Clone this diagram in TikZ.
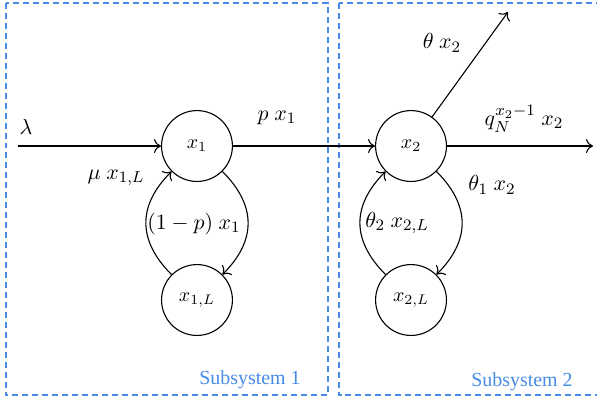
\documentclass[tikz,border=0pt]{standalone}
\usepackage{fontspec}
\setmainfont{Liberation Serif}
\usepackage{amsmath}
\usetikzlibrary{arrows.meta,calc,positioning}
\definecolor{subblue}{RGB}{70,140,230}

\begin{document}
\begin{tikzpicture}[
    >={To[length=3.5pt,width=7pt]},
    line width=0.55pt,
    state/.style={draw,circle,minimum size=1.25cm,inner sep=0pt},
    flow/.style={->},
    rate/.style={font=\fontsize{11.3}{13.6}\selectfont},
    subsys/.style={draw=subblue,line width=0.7pt,dash pattern=on 3pt off 2pt},
    subsyslabel/.style={text=subblue}
]

\useasboundingbox (0,0) rectangle (10.529,-7.143);

% Subsystem boxes
\draw[subsys] (0.106,-0.053) rectangle (5.786,-6.968);
\draw[subsys] (5.979,-0.053) rectangle (10.7,-6.968);

\node[subsyslabel] (sub1) at (4.409,-6.702) {Subsystem 1};
\node[subsyslabel] (sub2) at (9.206,-6.737) {Subsystem 2};

% States
\node[state] (x1)  at (3.474,-2.575) {$x_1$};
\node[state] (x1L) at (3.474,-5.291) {$x_{1,L}$};
\node[state] (x2)  at (7.249,-2.575) {$x_2$};
\node[state] (x2L) at (7.249,-5.291) {$x_{2,L}$};

% Free ends
\coordinate (src)  at (0.317,-2.575);
\coordinate (out)  at (10.459,-2.575);
\coordinate (drop) at (8.959,-0.212);

% ===== Subsystem 1 =====
\draw[flow] (src) -- (x1);
\node[rate] (lam) at (0.459,-2.240) {$\lambda$};

\draw[flow] (x1) to[out=-45,in=45,looseness=1.2] (x1L);
\node[rate] (rest) at (3.422,-3.951) {$(1-p)\ x_1$};

\draw[flow] (x1L) to[out=135,in=-135,looseness=1.2] (x1);
\node[rate] (back1) at (2.046,-3.139) {$\mu\ x_{1,L}$};

% Transfer
\draw[flow] (x1) -- (x2);
\node[rate] (pass) at (4.885,-2.081) {$p\ x_1$};

% ===== Subsystem 2 =====
\draw[flow] (x2) -- (out);
\node[rate] (exit) at (9.242,-2.099) {$q_N^{x_2-1}\ x_2$};

\draw[flow] (x2) -- (drop);
\node[rate] (lost) at (7.795,-0.758) {$\theta\ x_2$};

\draw[flow] (x2) to[out=-45,in=45,looseness=1.2] (x2L);
\node[rate] (th1) at (8.677,-3.263) {$\theta_1\ x_2$};

\draw[flow] (x2L) to[out=135,in=-135,looseness=1.2] (x2);
\node[rate] (th2) at (7.002,-3.933) {$\theta_2\ x_{2,L}$};

\end{tikzpicture}
\end{document}
